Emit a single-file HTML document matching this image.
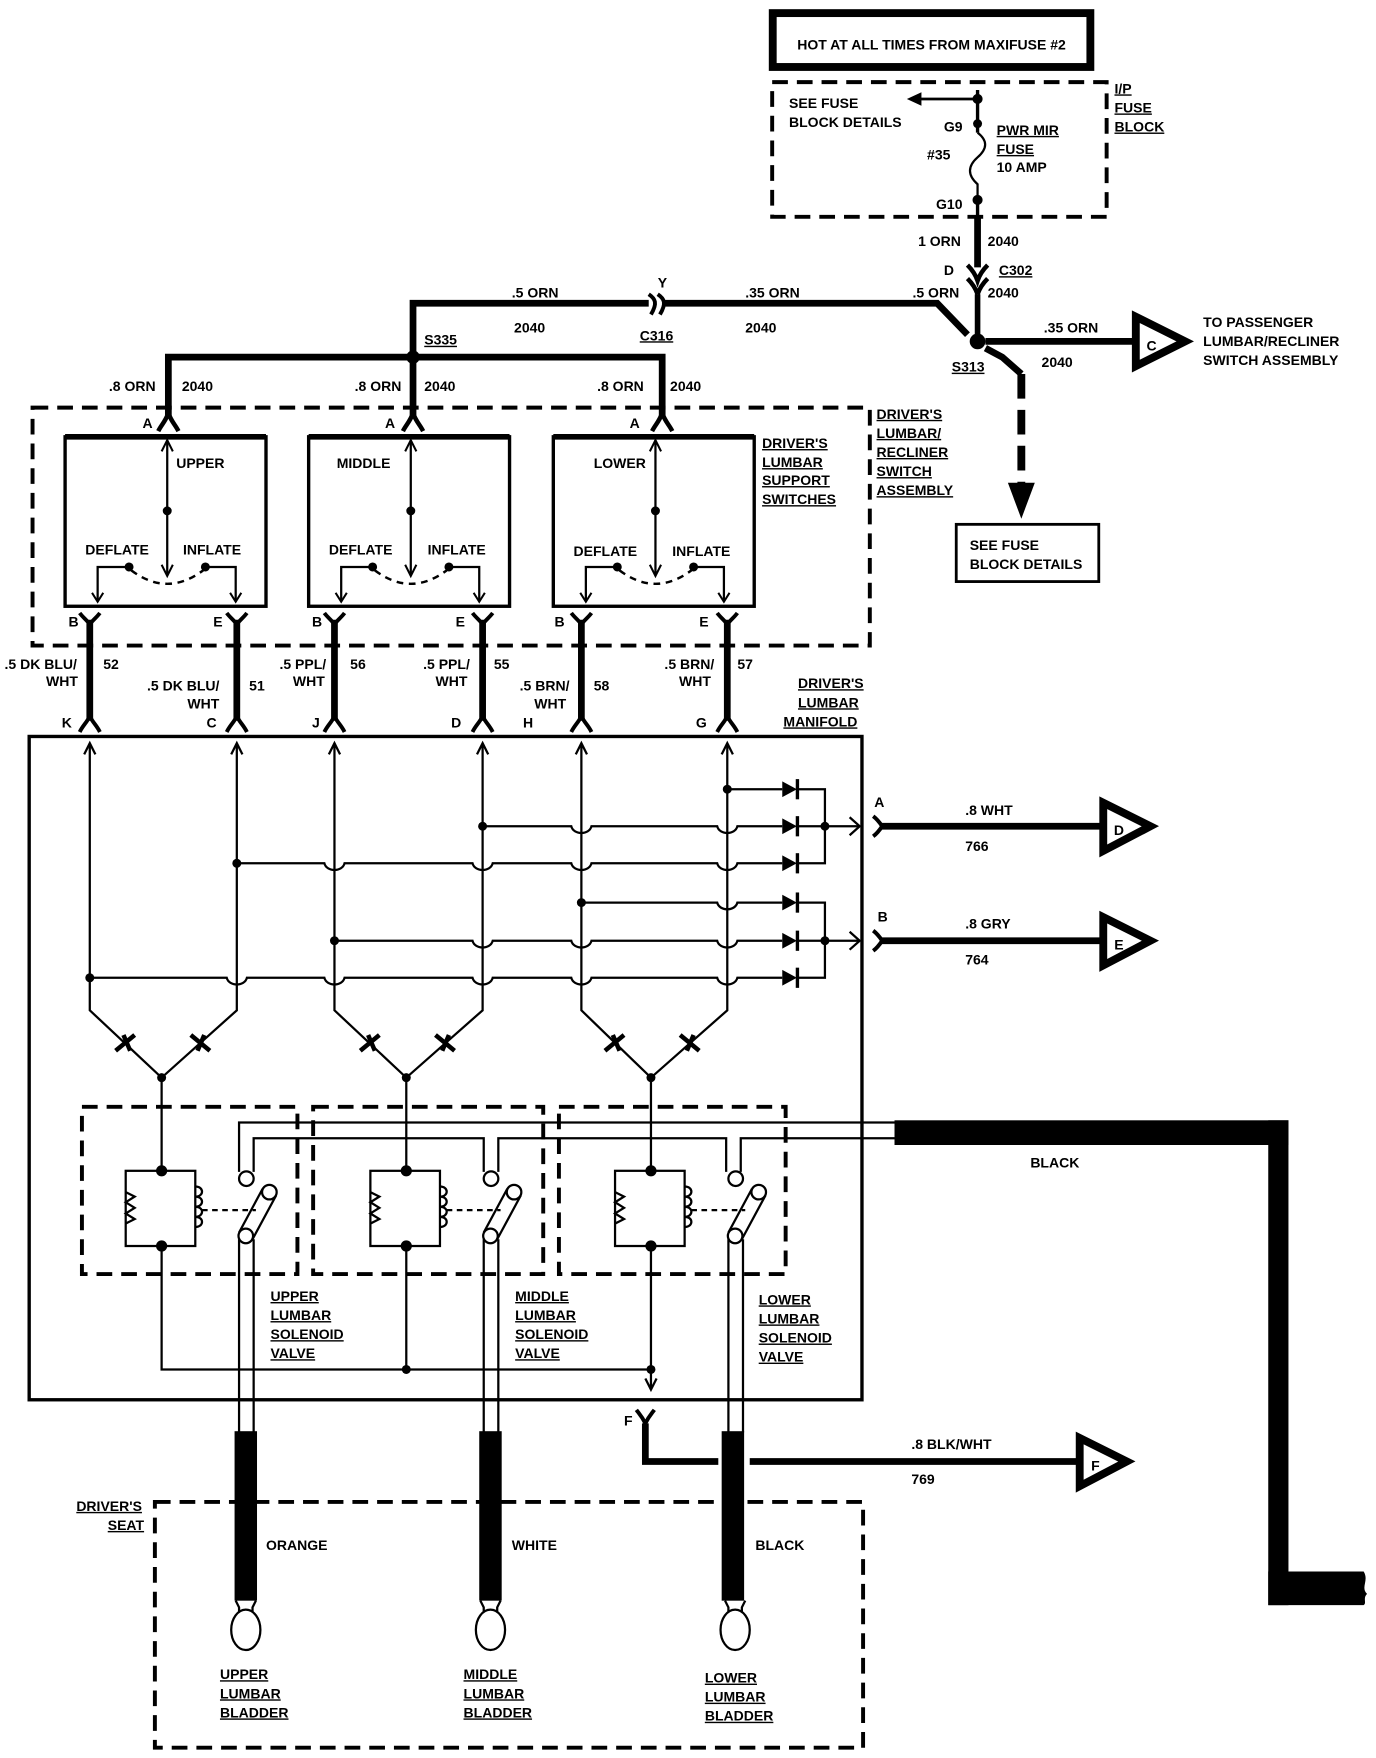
<!DOCTYPE html>
<html><head><meta charset="utf-8"><style>
html,body{margin:0;padding:0;background:#fff;}
svg{display:block;}
text{font-family:"Liberation Sans",sans-serif;font-weight:bold;font-size:12.5px;fill:#000;}
.u{text-decoration:underline;}
</style></head><body>
<svg width="1376" height="1758" viewBox="0 0 1226 1566" xmlns="http://www.w3.org/2000/svg">
<g fill="none" stroke="#000" stroke-linecap="butt">
<rect x="688.5" y="11.5" width="283" height="48" stroke-width="7"/>
<rect x="688" y="73" width="298" height="120" stroke-width="3.5" stroke-dasharray="14,8"/>
<line x1="871" y1="80" x2="871" y2="118" stroke-width="3"/>
<line x1="871" y1="88" x2="820" y2="88" stroke-width="2.5"/>
<path d="M821,82 L808,88 L821,94 Z" fill="#000" stroke="none"/>
<path d="M871,118 C880,125 880,132 871,140 C862,148 862,156 871,164 L871,178" stroke-width="2"/>
<line x1="871" y1="178" x2="871" y2="193" stroke-width="3"/>
<line x1="871" y1="193" x2="871" y2="238" stroke-width="6"/>
<path d="M862,236 C866,240 869,244 871,250 C873,244 876,240 880,236" stroke-width="4"/>
<path d="M862,248 C866,252 869,256 871,262" stroke-width="4"/>
<path d="M880,248 C876,252 873,256 871,262" stroke-width="4"/>
<line x1="871" y1="262" x2="871" y2="300" stroke-width="5"/>
<path d="M368,318 L368,270 L578,270" stroke-width="6"/>
<path d="M578,262 C584,266 586,270 580,280" stroke-width="3.5"/>
<path d="M586,262 C592,266 594,270 588,280" stroke-width="3.5"/>
<path d="M592,270 L835,270 L862,298" stroke-width="6"/>
<path d="M878,304 L1012,304" stroke-width="6"/>
<path d="M1012,282 L1012,326 L1056,304 Z" stroke-width="7" stroke-linejoin="miter"/>
<path d="M878,310 L893,318 L910,333" stroke-width="6"/>
<line x1="910" y1="333" x2="910" y2="432" stroke-width="7" stroke-dasharray="22,10"/>
<path d="M898,430 L922,430 L910,462 Z" fill="#000" stroke="none"/>
<rect x="852" y="467" width="127" height="51" stroke-width="2.5"/>
<path d="M150,372 L150,318 L590,318 L590,372" stroke-width="6"/>
<line x1="368" y1="318" x2="368" y2="372" stroke-width="6"/>
<rect x="29" y="363" width="746" height="212" stroke-width="3.5" stroke-dasharray="14,8"/>
<path d="M141,384 C144,378 147,376 150,368 C153,376 156,378 159,384" stroke-width="4"/>
<path d="M359,384 C362,378 365,376 368,368 C371,376 374,378 377,384" stroke-width="4"/>
<path d="M581,384 C584,378 587,376 590,368 C593,376 596,378 599,384" stroke-width="4"/>
</g>
<g fill="#000">
<circle cx="871" cy="88" r="4.5"/><circle cx="871" cy="110" r="4"/><circle cx="871" cy="178" r="4.5"/>
<circle cx="871" cy="304" r="7"/><circle cx="368" cy="318" r="6"/>
</g>
<g fill="none" stroke="#000">
<g id="sw">
<rect x="58" y="389" width="179" height="151" stroke-width="3"/>
<line x1="58" y1="389" x2="237" y2="389" stroke-width="5"/>
<line x1="149" y1="392" x2="149" y2="512" stroke-width="2"/>
<path d="M144,402 L149,392 L154,402" stroke-width="1.8"/>
<path d="M144,503 L149,513 L154,503" stroke-width="1.8"/>
<path d="M115,505 L87,505 L87,536" stroke-width="2"/>
<path d="M82,528 L87,536 L92,528" stroke-width="1.8"/>
<path d="M183,505 L210,505 L210,536" stroke-width="2"/>
<path d="M205,528 L210,536 L215,528" stroke-width="1.8"/>
<path d="M117,508 Q149,532 181,508" stroke-width="2.2" stroke-dasharray="6,5"/>
<circle cx="149" cy="455" r="3.5" fill="#000"/>
<circle cx="115" cy="505" r="3.5" fill="#000"/>
<circle cx="183" cy="505" r="3.5" fill="#000"/>
</g>
<use href="#sw" x="217"/>
<use href="#sw" x="435"/>
<g stroke-width="6">
<line x1="80" y1="552" x2="80" y2="642"/><line x1="211" y1="552" x2="211" y2="642"/>
<line x1="298" y1="552" x2="298" y2="642"/><line x1="430" y1="552" x2="430" y2="642"/>
<line x1="518" y1="552" x2="518" y2="642"/><line x1="648" y1="552" x2="648" y2="642"/>
</g>
<g stroke-width="3.5">
<path d="M71,546 C74,550 77,552 80,556 C83,552 86,550 89,546"/>
<path d="M202,546 C205,550 208,552 211,556 C214,552 217,550 220,546"/>
<path d="M289,546 C292,550 295,552 298,556 C301,552 304,550 307,546"/>
<path d="M421,546 C424,550 427,552 430,556 C433,552 436,550 439,546"/>
<path d="M509,546 C512,550 515,552 518,556 C521,552 524,550 527,546"/>
<path d="M639,546 C642,550 645,552 648,556 C651,552 654,550 657,546"/>
<path d="M71,652 C74,646 77,644 80,638 C83,644 86,646 89,652"/>
<path d="M202,652 C205,646 208,644 211,638 C214,644 217,646 220,652"/>
<path d="M289,652 C292,646 295,644 298,638 C301,644 304,646 307,652"/>
<path d="M421,652 C424,646 427,644 430,638 C433,644 436,646 439,652"/>
<path d="M509,652 C512,646 515,644 518,638 C521,644 524,646 527,652"/>
<path d="M639,652 C642,646 645,644 648,638 C651,644 654,646 657,652"/>
</g>
<rect x="26" y="656" width="742" height="591" stroke-width="3"/>
<g stroke-width="2">
<path d="M80,662 L80,900 L144,960 L211,900 L211,662"/>
<path d="M298,662 L298,900 L362,960 L430,900 L430,662"/>
<path d="M518,662 L518,900 L580,960 L648,900 L648,662"/>
<path d="M75,672 L80,662 L85,672 M206,672 L211,662 L216,672 M293,672 L298,662 L303,672 M425,672 L430,662 L435,672 M513,672 L518,662 L523,672 M643,672 L648,662 L653,672"/>
<path d="M648,703 L697,703"/>
<path d="M430,736 L509,736 C511,744 525,744 527,736 L639,736 C641,744 655,744 657,736 L697,736"/>
<path d="M211,769 L289,769 C291,777 305,777 307,769 L421,769 C423,777 437,777 439,769 L509,769 C511,777 525,777 527,769 L639,769 C641,777 655,777 657,769 L697,769"/>
<path d="M518,804 L639,804 C641,812 655,812 657,804 L697,804"/>
<path d="M298,838 L421,838 C423,846 437,846 439,838 L509,838 C511,846 525,846 527,838 L639,838 C641,846 655,846 657,838 L697,838"/>
<path d="M80,871 L202,871 C204,879 218,879 220,871 L289,871 C291,879 305,879 307,871 L421,871 C423,879 437,879 439,871 L509,871 C511,879 525,879 527,871 L639,871 C641,879 655,879 657,871 L697,871"/>
<path d="M711,703 L735,703 L735,769 L711,769 M711,736 L766,736 M711,804 L735,804 L735,871 L711,871 M711,838 L766,838"/>
<path d="M757,728 L766,736 L757,744 M757,830 L766,838 L757,846"/>
<path d="M144,960 L144,1042 M362,960 L362,1042 M580,960 L580,1042"/>
<path d="M144,1110 L144,1220 L580,1220 L580,1236 M362,1110 L362,1220 M580,1110 L580,1220 M575,1228 L580,1238 L585,1228"/>
</g>
<g stroke-width="6">
<path d="M784,736 L982,736"/><path d="M784,838 L982,838"/>
<path d="M575,1268 L575,1302 L640,1302 M668,1302 L962,1302"/>
</g>
<g stroke-width="3.5">
<path d="M778,727 C782,730 784,733 786,736 C784,739 782,742 778,745"/>
<path d="M778,829 C782,832 784,835 786,838 C784,841 782,844 778,847"/>
<path d="M567,1256 C570,1260 572,1262 575,1268 C578,1262 580,1260 583,1256"/>
</g>
<g stroke-width="7" stroke-linejoin="miter">
<path d="M983,715 L983,758 L1025,736 Z"/>
<path d="M983,817 L983,860 L1025,838 Z"/>
<path d="M962,1281 L962,1324 L1004,1302 Z"/>
</g>
<g stroke-width="3.5" stroke-dasharray="14,8">
<rect x="73" y="986" width="192" height="149"/>
<rect x="279" y="986" width="205" height="149"/>
<rect x="498" y="986" width="202" height="149"/>
</g>
<g stroke-width="2">
<path d="M797,1000 L213,1000 L213,1044"/>
<path d="M226,1044 L226,1014 L431,1014 L431,1044 M444,1044 L444,1014 L647,1014 L647,1044 M660,1044 L660,1014 L797,1014"/>
</g>
<rect x="797" y="998" width="351" height="22" fill="#000" stroke="none"/>
<rect x="1130" y="998" width="18" height="432" fill="#000" stroke="none"/>
<path d="M1130,1400 L1215,1400 C1220,1408 1212,1414 1218,1420 C1214,1424 1218,1428 1215,1430 L1130,1430 Z" fill="#000" stroke="none"/>
<g id="sol" stroke-width="2">
<rect x="112" y="1043" width="62" height="67"/>
<path d="M112,1062 L120,1066 L112,1071 L120,1076 L112,1081 L120,1086 L112,1090"/>
<path d="M174,1057 C182,1057 182,1066 174,1066 C182,1066 182,1075 174,1075 C182,1075 182,1084 174,1084 C182,1084 182,1093 174,1093"/>
<path d="M180,1078 L228,1078" stroke-dasharray="5,4"/>
<circle cx="219.5" cy="1050" r="6.5" fill="#fff"/>
<circle cx="240" cy="1062" r="6.5" fill="#fff"/>
<circle cx="219" cy="1101" r="6.5" fill="#fff"/>
<path d="M234,1059 L213,1098 M246,1065 L225,1104"/>
<path d="M213,1104 L213,1276 M226,1104 L226,1276"/>
<circle cx="144" cy="1043" r="4" fill="#000"/><circle cx="144" cy="1110" r="4" fill="#000"/>
<path d="M210,1426 L213,1432 L213,1438 M228,1426 L225,1432 L225,1438"/>
<ellipse cx="219" cy="1452" rx="13" ry="18" fill="#fff"/>
</g>
<use href="#sol" x="218"/>
<use href="#sol" x="436"/>
</g>
<g fill="#000">
<circle cx="80" cy="871" r="4"/><circle cx="211" cy="769" r="4"/><circle cx="298" cy="838" r="4"/>
<circle cx="430" cy="736" r="4"/><circle cx="518" cy="804" r="4"/><circle cx="648" cy="703" r="4"/>
<circle cx="735" cy="736" r="4"/><circle cx="735" cy="838" r="4"/>
<circle cx="144" cy="960" r="4"/><circle cx="362" cy="960" r="4"/><circle cx="580" cy="960" r="4"/>
<circle cx="362" cy="1220" r="4"/><circle cx="580" cy="1220" r="4"/>
<path d="M697,696 L710,703 L697,710 Z M697,729 L710,736 L697,743 Z M697,762 L710,769 L697,776 Z M697,797 L710,804 L697,811 Z M697,831 L710,838 L697,845 Z M697,864 L710,871 L697,878 Z"/>
<rect x="709" y="694" width="3" height="18"/><rect x="709" y="727" width="3" height="18"/><rect x="709" y="760" width="3" height="18"/>
<rect x="709" y="795" width="3" height="18"/><rect x="709" y="829" width="3" height="18"/><rect x="709" y="862" width="3" height="18"/>
<rect x="209" y="1275" width="20" height="151"/><rect x="427" y="1275" width="20" height="151"/><rect x="643" y="1275" width="20" height="151"/>
</g>
<g stroke="#000" stroke-width="4">
<path d="M103,936 L120,922 M110,922 L116,936"/><path d="M170,922 L187,936 M176,936 L182,922"/>
<path d="M321,936 L338,922 M328,922 L334,936"/><path d="M388,922 L405,936 M394,936 L400,922"/>
<path d="M539,936 L556,922 M546,922 L552,936"/><path d="M606,922 L623,936 M612,936 L618,922"/>
</g>
<rect x="138" y="1338" width="631" height="219" fill="none" stroke="#000" stroke-width="3.5" stroke-dasharray="14,8"/>

<text x="830" y="44" text-anchor="middle" font-size="13">HOT AT ALL TIMES FROM MAXIFUSE #2</text>
<text x="703" y="96">SEE FUSE</text><text x="703" y="113">BLOCK DETAILS</text>
<text x="841" y="117">G9</text><text x="826" y="142">#35</text><text x="834" y="186">G10</text>
<text x="888" y="120" class="u">PWR MIR</text><text x="888" y="137" class="u">FUSE</text><text x="888" y="153">10 AMP</text>
<text x="993" y="83" class="u" font-size="11">I/P</text><text x="993" y="100" class="u">FUSE</text><text x="993" y="117" class="u">BLOCK</text>
<text x="818" y="219">1 ORN</text><text x="880" y="219">2040</text>
<text x="841" y="245">D</text><text x="890" y="245" class="u">C302</text>
<text x="813" y="265">.5 ORN</text><text x="880" y="265">2040</text>
<text x="456" y="265">.5 ORN</text><text x="458" y="296">2040</text>
<text x="586" y="256">Y</text><text x="570" y="303" class="u">C316</text>
<text x="664" y="265">.35 ORN</text><text x="664" y="296">2040</text>
<text x="378" y="307" class="u">S335</text>
<text x="848" y="331" class="u">S313</text>
<text x="930" y="296">.35 ORN</text><text x="928" y="327">2040</text>
<text x="1072" y="291">TO PASSENGER</text><text x="1072" y="308">LUMBAR/RECLINER</text><text x="1072" y="325">SWITCH ASSEMBLY</text>
<text x="1026" y="312" font-size="22" text-anchor="middle">C</text>
<text x="864" y="490">SEE FUSE</text><text x="864" y="507">BLOCK DETAILS</text>
<text x="97" y="348">.8 ORN</text><text x="162" y="348">2040</text>
<text x="316" y="348">.8 ORN</text><text x="378" y="348">2040</text>
<text x="532" y="348">.8 ORN</text><text x="597" y="348">2040</text>
<text x="127" y="381">A</text><text x="343" y="381">A</text><text x="561" y="381">A</text>
<text x="781" y="373" class="u">DRIVER'S</text><text x="781" y="390" class="u">LUMBAR/</text><text x="781" y="407" class="u">RECLINER</text><text x="781" y="424" class="u">SWITCH</text><text x="781" y="441" class="u">ASSEMBLY</text>
<text x="679" y="399" class="u">DRIVER'S</text><text x="679" y="416" class="u">LUMBAR</text><text x="679" y="432" class="u">SUPPORT</text><text x="679" y="449" class="u">SWITCHES</text>
<text x="157" y="417">UPPER</text><text x="300" y="417">MIDDLE</text><text x="529" y="417">LOWER</text>
<text x="76" y="494">DEFLATE</text><text x="163" y="494">INFLATE</text>
<text x="293" y="494">DEFLATE</text><text x="381" y="494">INFLATE</text>
<text x="511" y="495">DEFLATE</text><text x="599" y="495">INFLATE</text>
<text x="61" y="558">B</text><text x="190" y="558">E</text><text x="278" y="558">B</text><text x="406" y="558">E</text><text x="494" y="558">B</text><text x="623" y="558">E</text>
<text x="4" y="596">.5 DK BLU/</text><text x="92" y="596">52</text><text x="41" y="611">WHT</text>
<text x="131" y="615">.5 DK BLU/</text><text x="222" y="615">51</text><text x="167" y="631">WHT</text>
<text x="249" y="596">.5 PPL/</text><text x="312" y="596">56</text><text x="261" y="611">WHT</text>
<text x="377" y="596">.5 PPL/</text><text x="440" y="596">55</text><text x="388" y="611">WHT</text>
<text x="463" y="615">.5 BRN/</text><text x="529" y="615">58</text><text x="476" y="631">WHT</text>
<text x="592" y="596">.5 BRN/</text><text x="657" y="596">57</text><text x="605" y="611">WHT</text>
<text x="711" y="613" class="u">DRIVER'S</text><text x="711" y="630" class="u">LUMBAR</text><text x="698" y="647" class="u">MANIFOLD</text>
<text x="55" y="648">K</text><text x="184" y="648">C</text><text x="278" y="648">J</text><text x="402" y="648">D</text><text x="466" y="648">H</text><text x="620" y="648">G</text>
<text x="779" y="719" font-size="11">A</text><text x="782" y="821" font-size="11">B</text>
<text x="860" y="726">.8 WHT</text><text x="860" y="758">766</text>
<text x="860" y="827">.8 GRY</text><text x="860" y="859">764</text>
<text x="997" y="744" font-size="21" text-anchor="middle">D</text><text x="997" y="846" font-size="21" text-anchor="middle">E</text>
<text x="918" y="1040">BLACK</text>
<text x="241" y="1159" class="u">UPPER</text><text x="241" y="1176" class="u">LUMBAR</text><text x="241" y="1193" class="u">SOLENOID</text><text x="241" y="1210" class="u">VALVE</text>
<text x="459" y="1159" class="u">MIDDLE</text><text x="459" y="1176" class="u">LUMBAR</text><text x="459" y="1193" class="u">SOLENOID</text><text x="459" y="1210" class="u">VALVE</text>
<text x="676" y="1162" class="u">LOWER</text><text x="676" y="1179" class="u">LUMBAR</text><text x="676" y="1196" class="u">SOLENOID</text><text x="676" y="1213" class="u">VALVE</text>
<text x="556" y="1270" font-size="10">F</text>
<text x="812" y="1291">.8 BLK/WHT</text><text x="812" y="1322">769</text>
<text x="976" y="1310" font-size="21" text-anchor="middle">F</text>
<text x="68" y="1346" class="u">DRIVER'S</text><text x="96" y="1363" class="u">SEAT</text>
<text x="237" y="1381">ORANGE</text><text x="456" y="1381">WHITE</text><text x="673" y="1381">BLACK</text>
<text x="196" y="1496" class="u">UPPER</text><text x="196" y="1513" class="u">LUMBAR</text><text x="196" y="1530" class="u">BLADDER</text>
<text x="413" y="1496" class="u">MIDDLE</text><text x="413" y="1513" class="u">LUMBAR</text><text x="413" y="1530" class="u">BLADDER</text>
<text x="628" y="1499" class="u">LOWER</text><text x="628" y="1516" class="u">LUMBAR</text><text x="628" y="1533" class="u">BLADDER</text>
</svg>
</body></html>
